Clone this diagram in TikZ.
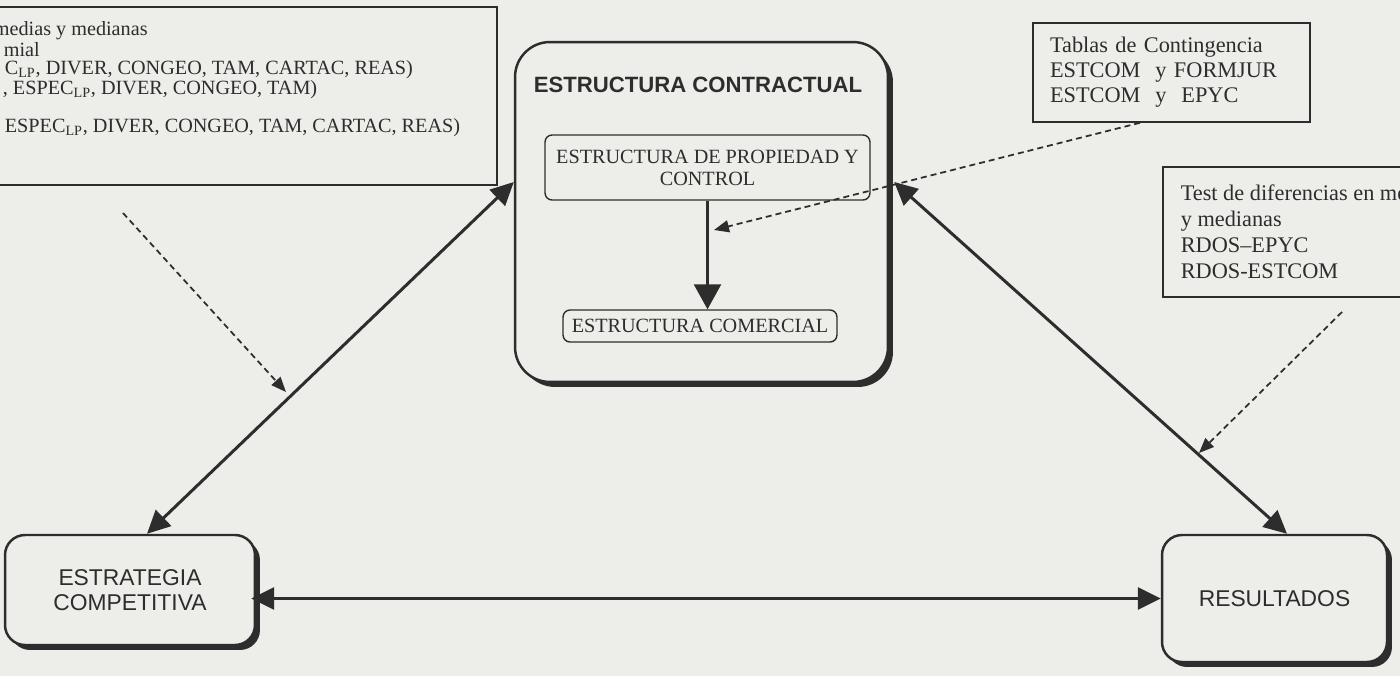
\documentclass[tikz,border=0pt]{standalone}
\usepackage{fontspec}
\setmainfont{Liberation Serif}
\setsansfont{Liberation Sans}
\usepackage{tikz}
\usetikzlibrary{positioning,shapes}
\usetikzlibrary{arrows.meta,shadows}
\definecolor{paper}{RGB}{237,237,234}
\definecolor{ink}{RGB}{45,45,45}

\begin{document}
\begin{tikzpicture}[x=0.02cm,y=-0.02cm,color=ink,line width=1pt,
    txtbox/.style={rectangle,draw,line width=0.9pt,fill=paper,inner sep=0pt},
    rbox/.style={rectangle,rounded corners=0.4cm,draw,line width=1.4pt,fill=paper,
        general shadow={fill=ink,shadow xshift=0.1cm,shadow yshift=-0.1cm},
        font=\sffamily\fontsize{13}{14.4}\selectfont,align=center},
    ibox/.style={rectangle,rounded corners=0.14cm,draw,line width=0.8pt,inner sep=0pt,align=center,
        font=\fontsize{11.5}{12.5}\selectfont},
    big/.style={{Triangle[length=0.46cm,width=0.44cm]}-{Triangle[length=0.46cm,width=0.44cm]},line width=1.7pt},
    down/.style={-{Triangle[length=0.5cm,width=0.54cm]},line width=1.4pt},
    hint/.style={-{Triangle[length=0.3cm,width=0.24cm]},line width=1pt,dash pattern=on 0.12cm off 0.08cm}]
        %paper
            \fill[paper] (0,0) rectangle (1400,676);
            \useasboundingbox (0,0) rectangle (1400,676);
            \clip (0,0) rectangle (1400,676);

        %boxes with the tests
            \draw (238.5,96) node(stats) [txtbox,minimum width=10.34cm,minimum height=3.56cm] {};
            \draw (-7,21) node(statstxt) [anchor=north west,align=left,inner sep=0pt,
                  font=\fontsize{11.5}{10.4}\selectfont]
                  {medias y medianas\\
                   \hspace*{0.2cm}mial\\
                   \hspace*{0.22cm}C\textsubscript{LP}, DIVER, CONGEO, TAM, CARTAC, REAS)\\
                   \hspace*{0.18cm}, ESPEC\textsubscript{LP}, DIVER, CONGEO, TAM)\\[10.4pt]
                   \hspace*{0.22cm}ESPEC\textsubscript{LP}, DIVER, CONGEO, TAM, CARTAC, REAS)};
            \draw (1171.5,72.5) node(tablas) [txtbox,minimum width=5.54cm,minimum height=1.98cm,
                  text width=4.86cm,align=left,font=\fontsize{12.7}{14.2}\selectfont]
                  {Tablas de Contingencia\\ESTCOM\ \ y FORMJUR\\ESTCOM\ \ y\ \ EPYC};
            \draw (1162,232) node(test) [txtbox,anchor=west,minimum height=2.6cm,inner xsep=0.36cm,
                  align=left,font=\fontsize{12.7}{14.8}\selectfont]
                  {Test de diferencias en medias\\y medianas\\RDOS--EPYC\\RDOS-ESTCOM};

        %main boxes
            \draw (701.5,212) node(contract) [rbox,rounded corners=0.7cm,minimum width=7.46cm,minimum height=6.8cm] {};
            \draw (698,85) node(ctitle) [font=\sffamily\bfseries\fontsize{12.6}{14}\selectfont] {ESTRUCTURA CONTRACTUAL};
            \draw (707.5,167.5) node(owner) [ibox,minimum width=6.5cm,minimum height=1.3cm]
                  {ESTRUCTURA DE PROPIEDAD Y\\CONTROL};
            \draw (700,326) node(comm) [ibox,minimum width=5.48cm,minimum height=0.64cm] {ESTRUCTURA COMERCIAL};
            \draw (130,590) node(strat) [rbox,minimum width=5cm,minimum height=2.2cm] {ESTRATEGIA\\COMPETITIVA};
            \draw (1274.5,598.5) node(results) [rbox,minimum width=4.5cm,minimum height=2.54cm] {\raisebox{-0.15cm}{RESULTADOS}};

        %relations
            \draw[down] (owner.south) to (owner.south |- comm.north);
            \draw[big] ([xshift=0.34cm]strat.north) to ([yshift=0.6cm]contract.west);
            \draw[big] ([xshift=0.1cm,yshift=0.6cm]contract.east) to ([xshift=0.25cm]results.north);
            \draw[big,shorten <=-0.1cm] (strat.east |- results.west) to (results.west);

        %where each test applies
            \coordinate (fromstats) at (123,213);
            \coordinate (onleft) at (286,392);
            \coordinate (onvert) at (714,230);
            \coordinate (fromtest) at (1342,312);
            \coordinate (onright) at (1199,453);
            \draw[hint] (fromstats) to (onleft);
            \draw[hint] ([xshift=-0.63cm]tablas.south) to (onvert);
            \draw[hint] (fromtest) to (onright);
\end{tikzpicture}
\end{document}
